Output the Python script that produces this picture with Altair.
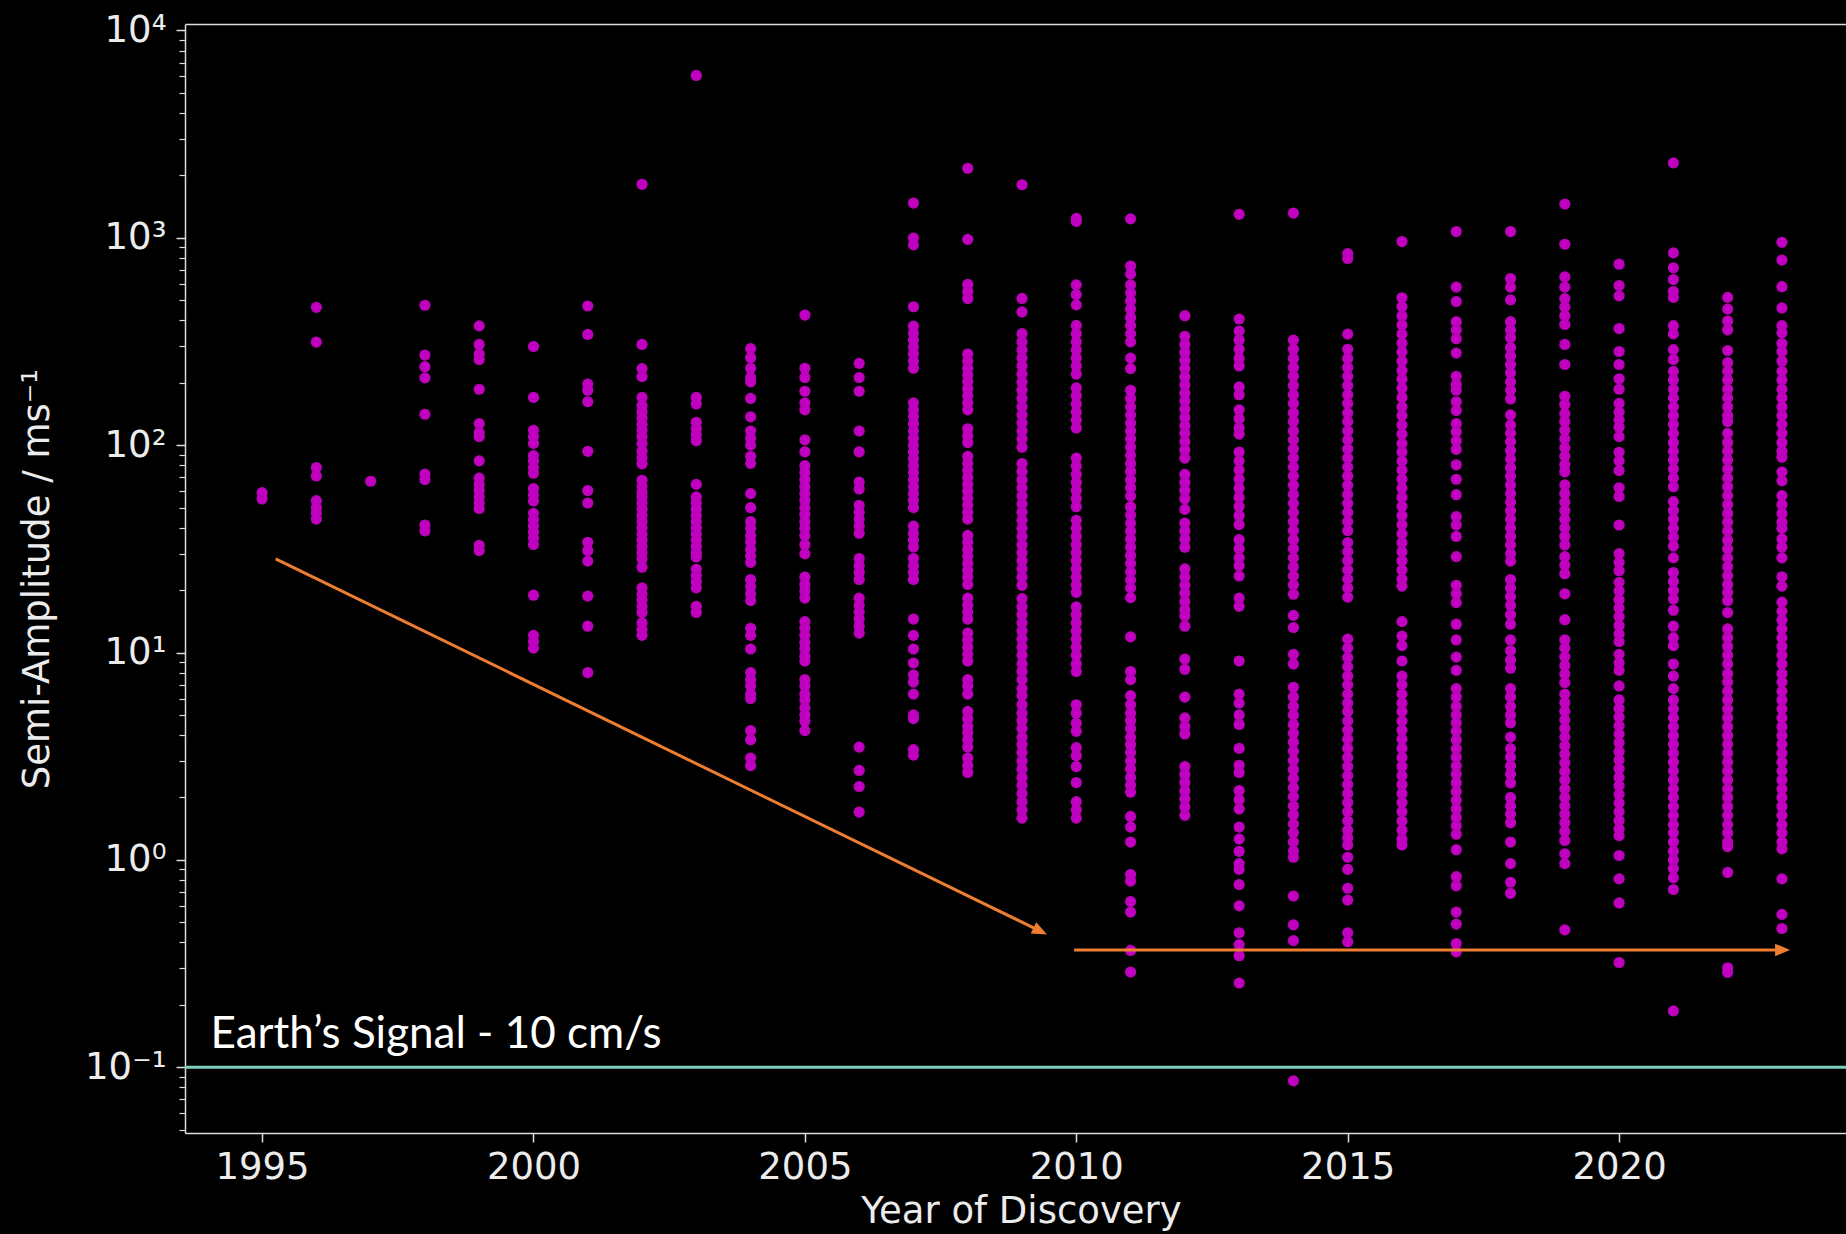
import altair as alt
import pandas as pd

# Radial-velocity semi-amplitudes K (m/s) of planets, grouped by discovery year
k_1995 = [59, 55]
k_1996 = [462, 314, 78, 71, 54, 50, 47, 44]
k_1997 = [67]
k_1998 = [473, 272, 239, 211, 141, 72.5, 68.3, 41.2, 38.6]
k_1999 = [376, 306, 275, 259, 186, 127, 115, 110, 84, 69.3, 64.7, 60.4, 56.3, 52.6, 49.5, 32.9, 31.0]
k_2000 = [299, 170, 118, 110, 102, 89, 84, 77.8, 73.2, 61.8, 57.6, 53.8, 46.9, 43.7, 40.8, 38.1,
          35.6, 33.2, 18.9, 12.1, 11.3, 10.5]
k_2001 = [469, 342, 197, 184, 162, 93.4, 60.4, 52.6, 34.0, 31.0, 27.6, 18.7, 13.4, 8.0]
k_2002 = [1811, 306, 234, 214, 170, 155, 145, 135, 126, 118, 110, 102, 93.4, 87.1, 81.3, 67.7, 63.2,
          59.0, 56.3, 52.6, 49.1, 45.8, 42.8, 39.9, 37.2, 34.8, 32.5, 30.3, 28.3, 25.8, 20.5, 19.1,
          17.9, 16.7, 15.6, 13.9, 12.9, 12.1]
k_2003 = [6067, 170, 158, 129, 120, 112, 105, 64.7, 56.3, 52.6, 49.1, 45.8, 42.8, 39.9, 37.2, 34.8,
          32.5, 30.3, 28.9, 25.2, 23.5, 21.9, 20.5, 16.7, 15.6]
k_2004 = [292, 264, 235, 212, 202, 168, 137, 117, 108, 100, 88.3, 81.7, 58.4, 50.0, 42.8, 39.7, 36.7,
          34.0, 31.4, 29.1, 27.2, 22.5, 20.8, 19.2, 17.8, 13.1, 12.1, 10.4, 8.0, 7.4, 6.9, 6.3, 6.0,
          4.2, 3.8, 3.1, 2.85]
k_2005 = [424, 235, 212, 182, 160, 148, 106, 92.9, 79.6, 73.7, 68.2, 63.1, 58.4, 54.1, 50.0, 46.3,
          42.8, 39.7, 36.7, 33.1, 29.9, 23.1, 21.3, 19.8, 18.3, 14.1, 13.1, 12.1, 11.2, 10.4, 9.6, 9.1,
          7.4, 6.9, 6.3, 5.9, 5.4, 5.0, 4.66, 4.2]
k_2006 = [248, 212, 182, 117, 92.9, 66.4, 61.5, 51.3, 47.5, 44.0, 40.7, 37.6, 28.4, 26.2, 24.3, 22.5,
          18.3, 16.9, 15.7, 14.5, 13.4, 12.4, 3.5, 2.7, 2.26, 1.70]
k_2007 = [1471, 998, 924, 465, 375, 347, 321, 297, 275, 254, 235, 160, 148, 137, 127, 117, 108, 100,
          92.9, 86.0, 79.6, 73.7, 68.2, 63.1, 58.4, 54.1, 50.0, 40.7, 37.6, 34.8, 32.3, 28.4, 26.2,
          24.3, 22.5, 14.5, 12.1, 10.4, 8.9, 7.8, 7.2, 6.3, 5.0, 4.8, 3.4, 3.2]
k_2008 = [2165, 983, 596, 551, 510, 275, 254, 235, 218, 202, 187, 173, 160, 148, 120, 111, 103, 88.3,
          81.7, 75.6, 69.9, 64.7, 59.9, 55.5, 51.3, 47.5, 44.0, 36.7, 34.0, 31.4, 29.1, 26.9, 24.9,
          23.1, 21.3, 18.3, 16.9, 15.7, 14.5, 12.4, 11.5, 10.6, 9.8, 9.1, 7.4, 6.9, 6.3, 5.2, 4.8,
          4.4, 4.1, 3.8, 3.5, 3.1, 2.85, 2.64]
k_2009 = [1802, 510, 439, 345, 315, 288, 263, 241, 220, 201, 184, 168, 153, 140, 128, 117, 107, 97.7,
          81.6, 74.6, 68.1, 62.3, 56.9, 52.0, 47.5, 43.4, 39.7, 36.3, 33.1, 30.3, 27.7, 25.3, 23.1,
          21.1, 18.2, 16.6, 15.2, 13.9, 12.7, 11.6, 10.6, 9.7, 8.8, 8.1, 7.4, 6.7, 6.2, 5.6, 5.1, 4.7,
          4.3, 3.9, 3.6, 3.3, 3.0, 2.74, 2.50, 2.29, 2.09, 1.91, 1.74, 1.59]
k_2010 = [1240, 1200, 593, 532, 475, 378, 345, 315, 288, 263, 241, 220, 189, 173, 158, 144, 132, 121,
          86.6, 79.2, 72.3, 66.1, 60.4, 55.2, 50.5, 43.4, 39.7, 36.3, 33.1, 30.3, 27.7, 25.3, 23.1,
          21.1, 19.5, 16.6, 15.2, 13.9, 12.7, 11.6, 10.6, 9.7, 8.8, 8.1, 5.6, 5.1, 4.56, 4.17, 3.48,
          3.18, 2.82, 2.36, 1.91, 1.74, 1.59]
k_2011 = [1234, 731, 668, 593, 542, 495, 452, 413, 378, 345, 315, 263, 234, 184, 168, 153, 140, 128,
          117, 107, 97.7, 89.3, 81.6, 74.6, 68.1, 62.3, 56.9, 50.5, 46.1, 42.1, 38.5, 35.2, 32.2, 29.4,
          26.9, 24.5, 22.4, 20.5, 18.4, 11.9, 8.1, 7.4, 6.2, 5.6, 5.1, 4.7, 4.3, 3.9, 3.6, 3.3, 3.0,
          2.74, 2.50, 2.29, 2.12, 1.62, 1.44, 1.22, 0.85, 0.79, 0.63, 0.56, 0.366, 0.288]
k_2012 = [421, 335, 306, 280, 256, 234, 213, 195, 178, 163, 149, 136, 124, 114, 104, 94.8, 86.6, 72.3,
          66.1, 60.4, 55.2, 49.0, 42.1, 38.5, 35.2, 32.2, 25.3, 23.1, 21.1, 19.3, 17.6, 16.1, 15.0,
          13.4, 9.3, 8.3, 6.1, 4.84, 4.4, 4.05, 2.82, 2.58, 2.36, 2.15, 1.97, 1.80, 1.64]
k_2013 = [1298, 406, 355, 321, 290, 262, 241, 191, 175, 148, 134, 121, 113, 92.7, 83.8, 75.8, 68.5,
          62.0, 56.0, 50.7, 45.8, 41.4, 35.0, 31.7, 28.6, 26.2, 23.4, 18.3, 16.7, 9.1, 6.3, 5.7, 5.0,
          4.5, 3.45, 2.86, 2.64, 2.16, 1.95, 1.76, 1.44, 1.26, 1.10, 0.96, 0.90, 0.76, 0.60, 0.445,
          0.39, 0.345, 0.255]
k_2014 = [1315, 321, 290, 262, 237, 215, 194, 175, 159, 143, 130, 117, 106, 95.9, 86.7, 78.4, 70.9,
          64.1, 57.9, 52.4, 47.4, 42.8, 38.7, 35.0, 31.7, 28.6, 25.9, 23.4, 21.2, 19.1, 15.1, 13.2,
          9.8, 8.8, 6.8, 6.1, 5.5, 5.0, 4.5, 4.08, 3.69, 3.34, 3.02, 2.73, 2.47, 2.23, 2.02, 1.82,
          1.65, 1.49, 1.35, 1.22, 1.10, 1.03, 0.67, 0.486, 0.408, 0.086]
k_2015 = [839, 795, 343, 290, 262, 237, 215, 194, 175, 159, 143, 130, 117, 106, 95.9, 86.7, 78.4,
          70.9, 64.1, 57.9, 52.4, 47.4, 42.8, 38.7, 33.9, 30.6, 27.7, 25.0, 22.6, 20.5, 18.5, 11.6,
          10.5, 9.45, 8.55, 7.7, 7.0, 6.3, 5.7, 5.2, 4.67, 4.22, 3.82, 3.45, 3.12, 2.82, 2.55, 2.31,
          2.09, 1.89, 1.71, 1.54, 1.39, 1.28, 1.18, 1.03, 0.90, 0.73, 0.64, 0.445, 0.403]
k_2016 = [959, 514, 465, 420, 380, 343, 310, 281, 254, 229, 208, 188, 170, 153, 139, 125, 113, 102,
          92.7, 83.8, 75.8, 68.5, 62.0, 56.0, 50.7, 45.8, 41.4, 37.4, 33.9, 30.6, 27.7, 25.0, 22.6,
          20.9, 14.1, 12.0, 10.8, 9.1, 7.7, 7.0, 6.3, 5.7, 5.2, 4.67, 4.22, 3.82, 3.45, 3.12, 2.82,
          2.55, 2.31, 2.09, 1.89, 1.71, 1.54, 1.39, 1.26, 1.18]
k_2017 = [1072, 578, 493, 394, 359, 326, 278, 215, 196, 184, 162, 147, 127, 116, 105, 95.4, 80.4,
          68.5, 57.7, 45.3, 41.2, 36.3, 29.0, 21.1, 19.2, 17.4, 13.7, 11.5, 9.5, 8.2, 6.7, 6.1, 5.5,
          5.0, 4.58, 4.17, 3.79, 3.44, 3.13, 2.84, 2.59, 2.35, 2.14, 1.94, 1.76, 1.60, 1.46, 1.33,
          1.12, 0.83, 0.75, 0.56, 0.49, 0.395, 0.36]
k_2018 = [1072, 636, 578, 502, 394, 359, 330, 296, 269, 245, 223, 202, 184, 167, 140, 125, 114, 104,
          94.2, 85.6, 77.8, 70.8, 64.3, 58.5, 53.1, 48.3, 43.9, 39.9, 36.3, 33.0, 30.0, 27.6, 22.5,
          20.5, 18.6, 16.9, 15.2, 13.7, 11.5, 10.2, 9.2, 8.4, 6.7, 6.1, 5.5, 5.0, 4.58, 3.91, 3.44,
          3.13, 2.84, 2.59, 2.35, 2.00, 1.82, 1.66, 1.51, 1.22, 0.96, 0.78, 0.69]
k_2019 = [1454, 931, 648, 578, 509, 463, 421, 382, 306, 245, 172, 157, 142, 130, 118, 107, 97.3, 88.4,
          80.4, 74.4, 64.3, 58.5, 53.1, 48.3, 43.9, 39.9, 36.3, 33.0, 29.0, 26.4, 24.0, 19.2, 14.4,
          11.5, 10.5, 9.53, 8.66, 7.87, 7.16, 6.30, 5.73, 5.21, 4.73, 4.30, 3.91, 3.55, 3.23, 2.94,
          2.67, 2.43, 2.20, 2.00, 1.82, 1.66, 1.51, 1.37, 1.24, 1.07, 0.96, 0.46]
k_2020 = [746, 589, 525, 365, 283, 245, 209, 186, 159, 144, 132, 122, 110, 92.4, 84.0, 75.4, 62.3,
          56.6, 41.2, 30.0, 27.2, 24.8, 21.8, 19.8, 18.0, 16.4, 14.9, 13.5, 12.3, 11.3, 9.8, 8.9, 8.2,
          6.9, 5.91, 5.37, 4.89, 4.44, 4.04, 3.67, 3.33, 3.03, 2.75, 2.50, 2.28, 2.07, 1.88, 1.71,
          1.55, 1.41, 1.31, 1.05, 0.81, 0.62, 0.32]
k_2021 = [2297, 846, 717, 629, 551, 516, 377, 344, 289, 259, 227, 206, 186, 169, 153, 139, 126, 114,
          103, 93.4, 84.7, 76.7, 69.5, 63.0, 53.4, 48.4, 43.9, 39.7, 36.0, 32.6, 28.6, 24.3, 22.0,
          19.9, 18.1, 16.0, 13.4, 11.8, 10.8, 8.8, 7.7, 6.7, 5.90, 5.35, 4.85, 4.39, 3.98, 3.61,
          3.27, 2.96, 2.68, 2.43, 2.20, 2.00, 1.81, 1.64, 1.48, 1.35, 1.22, 1.10, 1.00, 0.91, 0.82,
          0.72, 0.187]
k_2022 = [516, 453, 397, 360, 286, 250, 227, 206, 186, 169, 153, 139, 130, 114, 103, 93.4, 84.7,
          76.7, 69.5, 63.0, 57.1, 51.7, 46.8, 42.5, 38.5, 34.8, 31.6, 28.6, 25.9, 23.5, 21.3, 19.5,
          17.8, 15.6, 13.0, 11.8, 10.7, 9.7, 8.8, 7.9, 7.2, 6.5, 5.90, 5.35, 4.85, 4.39, 3.98, 3.61,
          3.27, 2.96, 2.68, 2.43, 2.20, 2.00, 1.81, 1.64, 1.48, 1.35, 1.22, 1.16, 0.87, 0.302, 0.287]
k_2023 = [952, 781, 581, 459, 377, 348, 309, 282, 254, 227, 206, 186, 169, 153, 139, 126, 114, 103,
          93.4, 87.5, 74.2, 67.3, 57.1, 51.7, 46.8, 42.5, 39.7, 35.3, 32.2, 28.6, 23.2, 20.9, 17.5,
          15.8, 14.3, 13.0, 11.8, 10.7, 9.7, 8.8, 7.9, 7.2, 6.5, 5.90, 5.35, 4.85, 4.39, 3.98, 3.61,
          3.27, 2.96, 2.68, 2.43, 2.20, 2.00, 1.81, 1.64, 1.48, 1.35, 1.22, 1.13, 0.81, 0.546, 0.467]

years = list(range(1995, 2024))
k_by_year = [k_1995, k_1996, k_1997, k_1998, k_1999, k_2000, k_2001, k_2002, k_2003, k_2004,
             k_2005, k_2006, k_2007, k_2008, k_2009, k_2010, k_2011, k_2012, k_2013, k_2014,
             k_2015, k_2016, k_2017, k_2018, k_2019, k_2020, k_2021, k_2022, k_2023]

# Earth's reflex signal and its annotation
earth_signal = [0.1]
earth_label = ["Earth\u2019s Signal - 10 cm/s"]
earth_label_year = [1994.05]
earth_label_k = [0.1236]

# Trend arrows: shaft start/end and arrow tips
arrow_year = [1995.25, 2009.96]
arrow_k = [28.3, 0.368]
arrow_year2 = [2009.26, 2022.93]
arrow_k2 = [0.464, 0.368]
tip_year = [2009.46, 2023.15]
tip_k = [0.437, 0.368]

# Axis ticks
x_ticks = [1995, 2000, 2005, 2010, 2015, 2020]
y_major = [0.1, 1, 10, 100, 1000, 10000]
y_major_labels = ["10\u207b\u00b9", "10\u2070", "10\u00b9", "10\u00b2", "10\u00b3", "10\u2074"]
Y_MIN, Y_MAX = 0.0482, 10740
X_MIN, X_MAX = 1993.58, 2024.18
y_minor = [k * 10.0 ** d for d in range(-2, 4) for k in range(2, 10)
           if Y_MIN <= k * 10.0 ** d <= Y_MAX]

points = pd.DataFrame(
    [{"year": y, "K": k} for y, ks in zip(years, k_by_year) for k in ks]
)
earth_df = pd.DataFrame({"K": earth_signal})
label_df = pd.DataFrame({"year": earth_label_year, "K": earth_label_k, "text": earth_label})
arrow_df = pd.DataFrame({"year": arrow_year, "K": arrow_k, "year2": arrow_year2, "K2": arrow_k2})
tip_df = pd.DataFrame({"year": tip_year, "K": tip_k})

FONT = "DejaVu Sans"
SPINE = "#dcdcdc"
TEXT = "#ececec"
ORANGE = "#ed7d31"

x_scale = alt.Scale(domain=[X_MIN, X_MAX], nice=False, zero=False)
y_scale = alt.Scale(type="log", domain=[Y_MIN, Y_MAX], nice=False)

label_expr = " : ".join(
    f"abs(datum.value - {v}) < {v * 1e-6} ? '{t}'" for v, t in zip(y_major, y_major_labels)
) + " : ''"

# Major decades: long ticks, labels, spine and title
y_axis_major = alt.Axis(
    orient="left",
    values=y_major,
    labelExpr=label_expr,
    tickSize=9,
    tickWidth=1.5,
    tickColor=SPINE,
    domainColor=SPINE,
    domainWidth=1.5,
    labelFont=FONT,
    labelFontSize=37,
    labelColor=TEXT,
    labelPadding=10,
    labelOverlap=False,
    labelFlush=False,
    grid=False,
    title="Semi-Amplitude / ms\u207b\u00b9",
    titleFont=FONT,
    titleFontSize=37,
    titleFontWeight="normal",
    titleColor=TEXT,
    titleAngle=270,
    titleAlign="center",
    titleBaseline="alphabetic",
    titleX=-137,
    titleY=554.5,
)

# Minor ticks between decades
y_axis_minor = alt.Axis(
    orient="left",
    values=y_minor,
    labels=False,
    domain=False,
    grid=False,
    tickSize=6,
    tickWidth=1.2,
    tickColor=SPINE,
    title=None,
)

x_axis = alt.Axis(
    values=x_ticks,
    format="d",
    tickSize=9,
    tickWidth=1.5,
    tickColor=SPINE,
    domainColor=SPINE,
    domainWidth=1.5,
    labelFont=FONT,
    labelFontSize=37,
    labelColor=TEXT,
    labelPadding=7,
    labelFlush=False,
    labelOverlap=False,
    grid=False,
    title="Year of Discovery",
    titleFont=FONT,
    titleFontSize=37,
    titleFontWeight="normal",
    titleColor=TEXT,
    titleAlign="center",
    titleBaseline="alphabetic",
    titleX=836,
    titleY=89,
)

top_axis = alt.Axis(
    orient="top", labels=False, ticks=False, title=None, grid=False,
    domainColor=SPINE, domainWidth=1.5,
)

scatter = alt.Chart(points).mark_circle(size=125, color="#bf00bf", opacity=1).encode(
    x=alt.X("year:Q", scale=x_scale, axis=x_axis),
    y=alt.Y("K:Q", scale=y_scale, axis=y_axis_major),
)

earth_line = alt.Chart(earth_df).mark_rule(color="#7fcfbe", strokeWidth=3).encode(
    y=alt.Y("K:Q", scale=y_scale, axis=y_axis_minor),
)

earth_text = alt.Chart(label_df).mark_text(
    align="left", baseline="alphabetic", font="Lato", fontSize=44, color="white"
).encode(
    x=alt.X("year:Q", scale=x_scale, axis=None),
    y=alt.Y("K:Q", scale=y_scale, axis=None),
    text="text:N",
)

shafts = alt.Chart(arrow_df).mark_rule(color=ORANGE, strokeWidth=3).encode(
    x=alt.X("year:Q", scale=x_scale, axis=top_axis),
    x2="year2:Q",
    y=alt.Y("K:Q", scale=y_scale, axis=None),
    y2="K2:Q",
)

HEAD = "M0,0 L-1,-0.42 L-1,0.42 Z"
head_base = alt.Chart(tip_df)
head1 = head_base.transform_filter(alt.datum.year < 2015).mark_point(
    shape=HEAD, filled=True, size=900, angle=26, color=ORANGE, opacity=1, strokeWidth=0
).encode(
    x=alt.X("year:Q", scale=x_scale, axis=None),
    y=alt.Y("K:Q", scale=y_scale, axis=None),
)
head2 = head_base.transform_filter(alt.datum.year > 2015).mark_point(
    shape=HEAD, filled=True, size=900, angle=0, color=ORANGE, opacity=1, strokeWidth=0
).encode(
    x=alt.X("year:Q", scale=x_scale, axis=None),
    y=alt.Y("K:Q", scale=y_scale, axis=None),
)

chart = (
    alt.layer(scatter, earth_line, shafts, head1, head2, earth_text)
    .resolve_axis(x="independent", y="independent")
    .properties(
        width=1661,
        height=1109,
        background="black",
        padding={"left": 185, "top": 24, "right": 0, "bottom": 101},
        autosize=alt.AutoSizeParams(type="none"),
    )
    .configure_view(stroke=None)
)

chart.save("out.html", embed_options={"renderer": "svg", "actions": False})
